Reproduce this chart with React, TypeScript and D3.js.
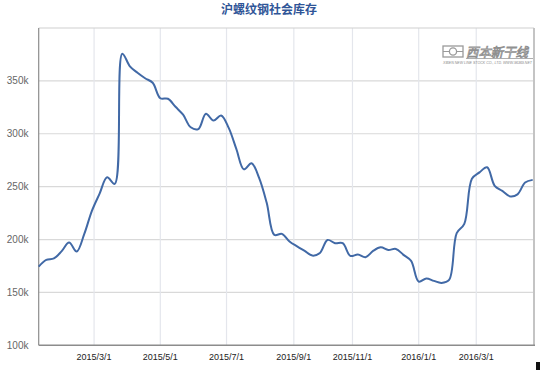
import React from "react";
import * as d3 from "d3";

const dates: string[] = [
  "2015-01-09","2015-01-16","2015-01-23","2015-01-30","2015-02-06","2015-02-13","2015-02-20","2015-02-27",
  "2015-03-06","2015-03-13","2015-03-20","2015-03-27","2015-04-03","2015-04-10","2015-04-17","2015-04-24",
  "2015-05-01","2015-05-08","2015-05-15","2015-05-22","2015-05-29","2015-06-05","2015-06-12","2015-06-19",
  "2015-06-26","2015-07-03","2015-07-10","2015-07-17","2015-07-24","2015-07-31","2015-08-07","2015-08-14",
  "2015-08-21","2015-08-28","2015-09-04","2015-09-11","2015-09-18","2015-09-25","2015-10-09","2015-10-16",
  "2015-10-23","2015-10-30","2015-11-06","2015-11-13","2015-11-20","2015-11-27","2015-12-04","2015-12-11",
  "2015-12-18","2015-12-25","2016-01-01","2016-01-08","2016-01-15","2016-01-22","2016-01-29","2016-02-05",
  "2016-02-19","2016-02-26","2016-03-04","2016-03-11","2016-03-18","2016-03-25","2016-04-01","2016-04-08",
  "2016-04-15","2016-04-22",
];

const inventoryK: number[] = [
  174.4,180.7,182.1,188.8,197.1,188.6,205.3,227.1,243.2,258.8,
  252.6,375.7,363.8,357.7,352.5,348.2,333.6,333.1,325.5,318.0,
  306.1,304.4,318.9,312.5,317.3,305.6,285.8,266.4,272.2,258.3,
  234.7,204.4,205.3,198.2,193.5,189.2,184.8,187.3,199.6,196.5,
  196.5,184.5,185.9,183.3,189.2,192.6,190.2,191.1,185.5,179.8,
  160.2,163.2,160.9,159.0,161.8,206.0,214.8,257.4,263.5,268.3,
  250.8,246.0,240.8,242.7,253.9,256.4,
];

const xTickDates: string[] = ["2015-03-01","2015-05-01","2015-07-01","2015-09-01","2015-11-01","2016-01-01","2016-03-01"];
const xTickLabels: string[] = ["2015/3/1","2015/5/1","2015/7/1","2015/9/1","2015/11/1","2016/1/1","2016/3/1"];
const yTicks: number[] = [100000,150000,200000,250000,300000,350000];

const title = "沪螺纹钢社会库存";

const W = 541, H = 370;
const L = 38.7, R = 534, T = 28, B = 345.3;

export default function App() {
  const parsed = dates.map((d) => new Date(d + "T00:00:00Z").getTime());
  const x = d3.scaleLinear().domain([0, dates.length - 1]).range([L, 532.7]);
  const y = d3.scaleLinear().domain([100000, 400000]).range([B, T]);

  const ordIndex = (ds: string) => {
    const t = new Date(ds + "T00:00:00Z").getTime();
    const i = d3.bisectRight(parsed, t) - 1;
    if (i < 0) return 0;
    if (i >= parsed.length - 1) return parsed.length - 1;
    return i + (t - parsed[i]) / (parsed[i + 1] - parsed[i]);
  };

  const pts: [number, number][] = inventoryK.map((v, i) => [x(i), y(v * 1000)]);
  const line = d3.line().curve(d3.curveCatmullRom.alpha(0.5))(pts) || "";

  const font = "'Liberation Sans', Arial, sans-serif";

  return (
    <svg width={W} height={H} style={{ position: "absolute", left: 0, top: 0, background: "#fff" }}>
      <rect x={0} y={0} width={W} height={H} fill="#fff" />
      <text x={269} y={14} textAnchor="middle" fontFamily="'Noto Sans CJK SC', sans-serif" fontWeight="bold" fontSize={12} fill="#2f5597">
        {title}
      </text>

      {yTicks.filter((v) => v > 100000).map((v) => (
        <line key={"h" + v} x1={L} x2={R} y1={y(v)} y2={y(v)} stroke="#d9d9d9" strokeWidth={1.2} />
      ))}
      {xTickDates.map((d) => {
        const xx = x(ordIndex(d));
        return <line key={"v" + d} x1={xx} x2={xx} y1={T} y2={B} stroke="#e4e6ec" strokeWidth={1.2} />;
      })}

      {/* watermark */}
      <g>
        <rect x={443} y={46} width={20} height={11} fill="#fff" stroke="#9a9a9a" strokeWidth={1.3} />
        <line x1={443} x2={463} y1={51.5} y2={51.5} stroke="#9a9a9a" strokeWidth={1} />
        <circle cx={453} cy={51.5} r={3.6} fill="#fff" stroke="#9a9a9a" strokeWidth={1.3} />
        <text x={466} y={56.5} fontFamily="'Noto Sans CJK SC', sans-serif" fontSize={13} fontStyle="italic" fill="#fff" stroke="#909090" strokeWidth={0.8} textLength={62} lengthAdjust="spacingAndGlyphs">
          西本新干线
        </text>
        <line x1={466} x2={533} y1={58.5} y2={58.5} stroke="#9a9a9a" strokeWidth={0.8} />
        <text x={443} y={64} fontFamily={font} fontSize={3.8} fontStyle="italic" fill="#8a8a8a" textLength={89} lengthAdjust="spacingAndGlyphs">
          XIBEN NEW LINE STOCK CO., LTD.        WWW.96369.NET
        </text>
      </g>

      <line x1={L} x2={R} y1={T} y2={T} stroke="#cfcfcf" strokeWidth={1.2} />
      <line x1={R} x2={R} y1={T} y2={B} stroke="#c4c4c4" strokeWidth={2} />
      <line x1={L} x2={L} y1={T} y2={B} stroke="#8c8c8c" strokeWidth={1.2} />
      <line x1={L} x2={R + 1} y1={B} y2={B} stroke="#8c8c8c" strokeWidth={1.5} />

      <path d={line} fill="none" stroke="#4169a6" strokeWidth={2} strokeLinejoin="round" />

      {yTicks.map((v) => (
        <text key={"yl" + v} x={28.5} y={y(v) + 3.5} textAnchor="end" fontFamily={font} fontSize={10} fill="#666">
          {v / 1000 + "k"}
        </text>
      ))}
      {xTickDates.map((d, i) => (
        <text key={"xl" + d} x={x(ordIndex(d))} y={360} textAnchor="middle" fontFamily={font} fontSize={9} fill="#222">
          {xTickLabels[i]}
        </text>
      ))}

      <rect x={536} y={362} width={4} height={8} fill="#111" />
    </svg>
  );
}
